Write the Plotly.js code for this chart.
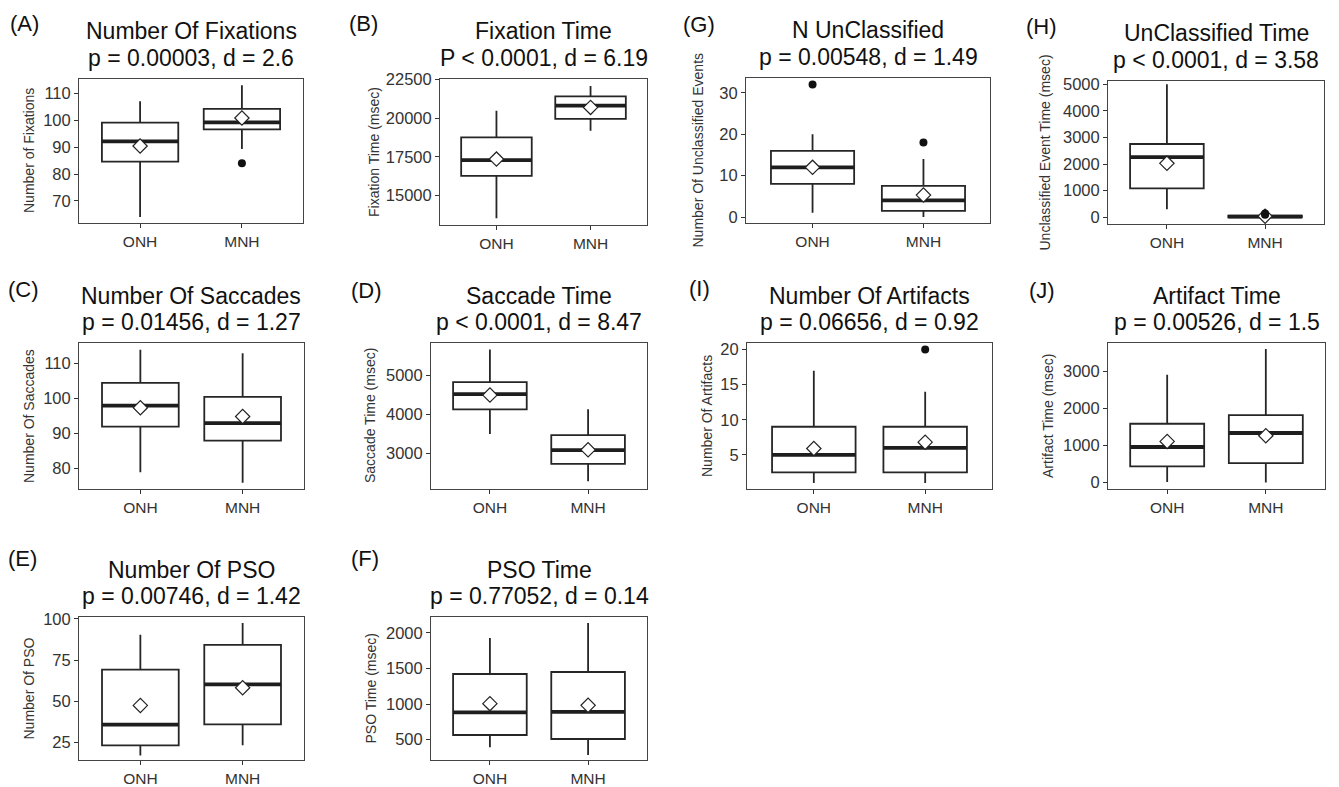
<!DOCTYPE html>
<html>
<head>
<meta charset="utf-8">
<script src="https://cdn.plot.ly/plotly-3.0.1.min.js"></script>
<style>html,body{margin:0;padding:0;background:#fff;}#chart{width:1339px;height:787px;}</style>
</head>
<body>
<div id="chart"></div>
<script>
// ---------------- DATA ----------------
const groups = ['ONH', 'MNH'];
const panelLetters = ['(A)', '(B)', '(G)', '(H)', '(C)', '(D)', '(I)', '(J)', '(E)', '(F)'];
const titleTexts = ['Number Of Fixations', 'Fixation Time', 'N UnClassified', 'UnClassified Time',
  'Number Of Saccades', 'Saccade Time', 'Number Of Artifacts', 'Artifact Time',
  'Number Of PSO', 'PSO Time'];
const statTexts = ['p = 0.00003, d = 2.6', 'P < 0.0001, d = 6.19', 'p = 0.00548, d = 1.49', 'p < 0.0001, d = 3.58',
  'p = 0.01456, d = 1.27', 'p < 0.0001, d = 8.47', 'p = 0.06656, d = 0.92', 'p = 0.00526, d = 1.5',
  'p = 0.00746, d = 1.42', 'p = 0.77052, d = 0.14'];
const yTitles = ['Number of Fixations', 'Fixation Time (msec)', 'Number Of Unclassified Events', 'Unclassified Event Time (msec)',
  'Number Of Saccades', 'Saccade Time (msec)', 'Number Of Artifacts', 'Artifact Time (msec)',
  'Number Of PSO', 'PSO Time (msec)'];

// ONH statistics (per panel, order as panelLetters)
const onhLower  = [64,   13520, 1,  300,  79,    3494, 1,   10,   17.3, 394];
const onhQ1     = [84.6, 16260, 8,  1090, 92,    4124, 2.5, 432,  23.4, 566];
const onhMedian = [92.1, 17285, 12, 2260, 98,    4515, 5,   957,  36,   883];
const onhQ3     = [99.1, 18760, 16, 2755, 104.5, 4821, 9,   1586, 69.3, 1423];
const onhUpper  = [107,  20480, 20, 5000, 114,   5656, 17,  2910, 90.5, 1930];
const onhMean   = [90.4, 17350, 12, 2030, 97.4,  4489, 5.9, 1108, 47.6, 1007];
const onhOutliers = [[], [], [32], [], [], [], [], [], [], []];

// MNH statistics
const mnhLower  = [89.3,  19180, 0,   0,   76,    2277, 1,   0,    23.4, 286];
const mnhQ1     = [96.6,  19960, 1.5, 0,   88,    2727, 2.5, 524,  36.1, 510];
const mnhMedian = [99.2,  20810, 4,   25,  93,    3077, 6,   1335, 60.3, 892];
const mnhQ3     = [104.2, 21415, 7.5, 60,  100.5, 3460, 9,   1821, 84.3, 1451];
const mnhUpper  = [113,   22080, 14,  120, 113,   4123, 14,  3605, 97.6, 2140];
const mnhMean   = [100.8, 20700, 5.3, 40,  94.9,  3085, 6.8, 1262, 58.3, 983];
const mnhOutliers = [[84], [], [18], [100, 140], [], [], [20], [], [], []];

// ---------------- LAYOUT CONFIG ----------------
const W = 1339, H = 787;
// plot area [left, right, top, bottom] in px
const plotBoxes = [
  [79, 303, 79, 223], [440, 647, 79, 225], [746, 990, 78, 223], [1108, 1324, 81, 224],
  [79, 304, 343, 489], [431, 647, 343, 489], [747, 992, 343, 489], [1108, 1325, 343, 489],
  [79, 304, 617, 760], [431, 647, 617, 760]
];
const yRanges = [[61.8, 115.3], [13083, 22539], [-1.45, 33.6], [-252, 5124], [74.2, 115.9],
  [2081, 5825], [0.13, 20.94], [-178, 3768], [14.5, 101.2], [215, 2224]];
const yDticks = [10, 2500, 10, 1000, 10, 1000, 5, 1000, 25, 500];
const letterPos = [[8, 23], [347, 23], [681, 24], [1024, 26], [6, 289], [349, 291], [687, 288], [1027, 290], [6, 558], [349, 558]];
const yTitleX = [29, 374, 698, 1044, 29, 370, 707, 1048, 28, 370];

const FONT = 'Liberation Sans, Arial, Helvetica, sans-serif';
const LINE = '#262626';
const BOXW = 0.75;
const px = x => x / W;
const py = y => 1 - y / H;

const traces = [];
const layout = {
  width: W, height: H,
  margin: {l: 0, r: 0, t: 0, b: 0},
  paper_bgcolor: '#ffffff', plot_bgcolor: '#ffffff',
  showlegend: false,
  font: {family: FONT, color: '#222'},
  annotations: []
};

const stats = [
  {lo: onhLower, q1: onhQ1, med: onhMedian, q3: onhQ3, hi: onhUpper, mean: onhMean, out: onhOutliers},
  {lo: mnhLower, q1: mnhQ1, med: mnhMedian, q3: mnhQ3, hi: mnhUpper, mean: mnhMean, out: mnhOutliers}
];

for (let i = 0; i < panelLetters.length; i++) {
  const n = i + 1;
  const xa = 'x' + n, ya = 'y' + n;
  const [l, r, t, b] = plotBoxes[i];

  stats.forEach((s, g) => {
    const pos = g + 1;
    traces.push({
      type: 'box', xaxis: xa, yaxis: ya,
      x: [pos], q1: [s.q1[i]], median: [s.med[i]], q3: [s.q3[i]],
      lowerfence: [s.lo[i]], upperfence: [s.hi[i]],
      width: BOXW, whiskerwidth: 0, boxpoints: false,
      fillcolor: '#ffffff', line: {color: LINE, width: 1.8},
      hoverinfo: 'skip'
    });
  });
  stats.forEach((s, g) => {
    const pos = g + 1;
    traces.push({
      type: 'scatter', mode: 'lines', xaxis: xa, yaxis: ya,
      x: [pos - BOXW / 2, pos + BOXW / 2], y: [s.med[i], s.med[i]],
      line: {color: '#1e1e1e', width: 3.8}, hoverinfo: 'skip'
    });
  });
  traces.push({
    type: 'scatter', mode: 'markers', xaxis: xa, yaxis: ya,
    x: [1, 2], y: [stats[0].mean[i], stats[1].mean[i]],
    marker: {symbol: 'diamond', size: 11, color: '#ffffff', line: {color: '#222', width: 1.2}},
    hoverinfo: 'skip'
  });
  const ox = [], oy = [];
  stats.forEach((s, g) => s.out[i].forEach(v => { ox.push(g + 1); oy.push(v); }));
  if (ox.length) {
    traces.push({
      type: 'scatter', mode: 'markers', xaxis: xa, yaxis: ya,
      x: ox, y: oy, marker: {symbol: 'circle', size: 8, color: '#111'}, hoverinfo: 'skip'
    });
  }

  layout['xaxis' + (n === 1 ? '' : n)] = {
    domain: [px(l), px(r)], anchor: ya, range: [0.4, 2.6],
    tickvals: [1, 2], ticktext: groups,
    ticks: 'outside', ticklen: 4, tickwidth: 1, tickcolor: '#333',
    showline: true, linecolor: '#444', linewidth: 1, mirror: true,
    showgrid: false, zeroline: false, fixedrange: true,
    tickfont: {family: FONT, size: 15.5, color: '#333'}
  };
  layout['yaxis' + (n === 1 ? '' : n)] = {
    domain: [py(b), py(t)], anchor: xa, range: yRanges[i],
    dtick: yDticks[i], tick0: 0, tickformat: 'd',
    ticks: 'outside', ticklen: 4, tickwidth: 1, tickcolor: '#333',
    showline: true, linecolor: '#444', linewidth: 1, mirror: true,
    showgrid: false, zeroline: false, fixedrange: true,
    tickfont: {family: FONT, size: 16.5, color: '#333'}
  };

  layout.annotations.push({
    xref: 'paper', yref: 'paper', x: px(letterPos[i][0]), y: py(letterPos[i][1]),
    xanchor: 'left', yanchor: 'middle', showarrow: false,
    text: panelLetters[i], font: {family: FONT, size: 22, color: '#111'}
  });
  layout.annotations.push({
    xref: 'paper', yref: 'paper', x: px((l + r) / 2), y: py(t - 47.5),
    xanchor: 'center', yanchor: 'middle', showarrow: false,
    text: titleTexts[i], font: {family: FONT, size: 23, color: '#111'}
  });
  layout.annotations.push({
    xref: 'paper', yref: 'paper', x: px((l + r) / 2), y: py(t - 21),
    xanchor: 'center', yanchor: 'middle', showarrow: false,
    text: statTexts[i], font: {family: FONT, size: 23, color: '#111'}
  });
  layout.annotations.push({
    xref: 'paper', yref: 'paper', x: px(yTitleX[i]), y: py((t + b) / 2),
    xanchor: 'center', yanchor: 'middle', showarrow: false, textangle: -90,
    text: yTitles[i], font: {family: FONT, size: 14, color: '#333'}
  });
}

Plotly.newPlot('chart', traces, layout, {staticPlot: true, displayModeBar: false});
</script>
</body>
</html>
